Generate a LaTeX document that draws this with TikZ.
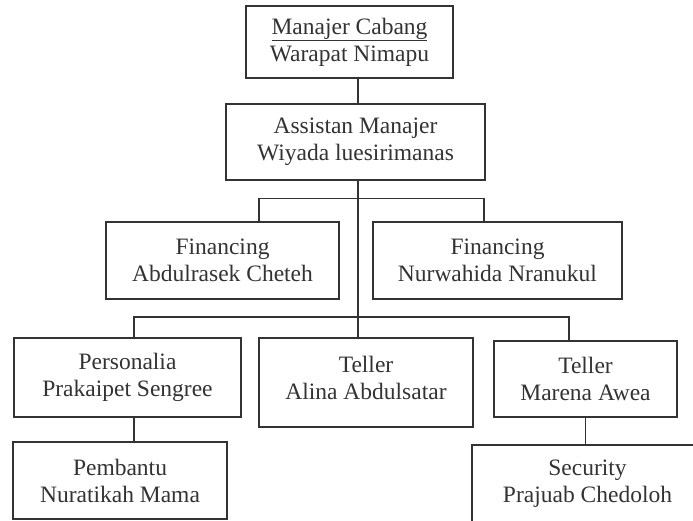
\documentclass[tikz,border=0pt]{standalone}
\usepackage{fontspec}
\setmainfont{Liberation Serif}
\definecolor{ink}{HTML}{333333}
\tikzset{
    box/.style={draw=ink, line width=1.6pt, text=ink, align=center, inner sep=0pt,
        font=\fontsize{23.5}{27}\selectfont},
    link/.style={draw=ink, line width=1.6pt}
}
\begin{document}
\begin{tikzpicture}[x=1pt, y=1pt]
    \clip (0,0) rectangle (693,-521);
    \fill[white] (0,0) rectangle (693,-521);

    % Boxes
    \node[box, minimum width=207, minimum height=72] (cab) at (349.5,-42) {\underline{Manajer Cabang}\\Warapat Nimapu};
    \node[box, minimum width=259, minimum height=76] (asm) at (355.5,-142) {Assistan Manajer\\Wiyada luesirimanas};
    \node[box, minimum width=233, minimum height=77] (finA) at (222.5,-260.5) {Financing\\Abdulrasek Cheteh};
    \node[box, minimum width=249, minimum height=77] (finB) at (497.5,-260.5) {Financing\\Nurwahida Nranukul};
    \node[box, minimum width=227, minimum height=79] (pers) at (127.5,-377.5) {Personalia\\Prakaipet Sengree};
    \node[box, minimum width=214, minimum height=89] (telA) at (366,-382.5) {Teller\\Alina Abdulsatar\rule[-10pt]{0pt}{10pt}};
    \node[box, minimum width=183, minimum height=76] (telB) at (585.5,-379) {Teller\\Marena Awea};
    \node[box, minimum width=214, minimum height=77] (pemb) at (120,-480.5) {Pembantu\\Nuratikah Mama};
    \node[box, minimum width=231, minimum height=77] (sec) at (587.5,-483.5) {Security\\Prajuab Chedoloh};

    % Lines
    \coordinate (trunk) at (358,0);
    \coordinate (b1L) at (259,-198.5);
    \coordinate (b1R) at (484,-198.5);
    \coordinate (b2L) at (134,-317);
    \coordinate (b2R) at (569,-317);
    \draw[link] (cab.south -| trunk) -- (asm.north -| trunk);
    \draw[link] (asm.south -| trunk) -- (telA.north -| trunk);
    \draw[link] (finA.north -| b1L) -- (b1L) -- (b1R) -- (finB.north -| b1R);
    \draw[link] (pers.north -| b2L) -- (b2L) -- (b2R) -- (telB.north -| b2R);
    \draw[link] (pers.south -| b2L) -- (pemb.north -| b2L);
    \draw[link] (telB.south) -- (telB.south |- sec.north);
\end{tikzpicture}
\end{document}
